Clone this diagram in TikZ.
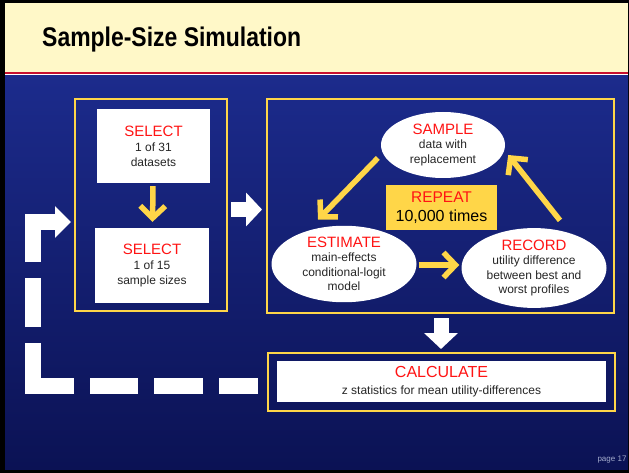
\documentclass[tikz,border=0pt]{standalone}
\usepackage{fontspec}
\setmainfont{Liberation Sans}
\newfontfamily\titlefont[FakeStretch=0.85]{Liberation Sans}
\usetikzlibrary{calc,arrows.meta,shapes.geometric}
\definecolor{navytop}{RGB}{28,43,140}
\definecolor{navybot}{RGB}{11,18,84}
\definecolor{titleband}{RGB}{255,248,200}
\definecolor{rulered}{RGB}{200,16,46}
\definecolor{gold}{RGB}{255,214,72}
\definecolor{hdred}{RGB}{255,20,20}
\newcommand{\hd}[2][15]{{\fontsize{#1}{15}\selectfont\color{hdred}#2}}
\begin{document}
\begin{tikzpicture}[x=1pt, y=-1pt,
  outerbox/.style={draw=gold, line width=2pt, inner sep=0pt},
  whitebox/.style={fill=white, align=center, inner sep=0pt, text=black!85, font=\fontsize{12}{15}\selectfont},
  blob/.style={ellipse, fill=white, align=center, inner sep=0pt, text=black!85, font=\fontsize{12}{14.5}\selectfont},
  yarrow/.style={draw=gold, line width=5.5pt, -{Straight Barb[length=12pt,width=25pt]}},
  warrow/.style={draw=white, line width=15pt, -{Triangle[length=16pt,width=33pt]}},
  retline/.style={draw=white, line width=16pt,
    dash pattern=on 39pt off 16pt on 49pt off 16pt on 48pt off 16pt on 84pt off 16pt on 49pt off 16pt on 62pt off 100pt,
    -{Triangle[length=16pt,width=31pt]}}]
  \useasboundingbox (0,0) rectangle (629,473);
  \fill[black] (0,0) rectangle (629,473);
  \fill[titleband] (5,3) rectangle (628,72);
  \fill[rulered] (5,72) rectangle (628,74);
  \fill[white] (5,74) rectangle (628,75.5);
  \shade[top color=navytop, bottom color=navybot] (5,75.5) rectangle (628,469);
  \node[anchor=west, inner sep=0pt, font=\titlefont\bfseries\fontsize{27}{27}\selectfont] (title) at (42,40) {Sample-Size Simulation};

  % left panel
  \node[outerbox, minimum width=152, minimum height=212] (selbox) at (151,205) {};
  \node[whitebox, minimum width=113, minimum height=74] (sel1) at (153.5,146) {\hd{SELECT}\\1 of 31\\datasets};
  \node[whitebox, minimum width=114, minimum height=75] (sel2) at (152,265.5) {\hd{SELECT}\\1 of 15\\sample sizes};
  \draw[yarrow, shorten <=3pt, shorten >=6pt] (sel1) -- (sel2);

  % resampling loop
  \node[outerbox, minimum width=347, minimum height=214] (loopbox) at (440.5,206) {};
  \node[blob, minimum width=124, minimum height=66] (sample) at (443,145) {\hd{SAMPLE}\\data with\\replacement};
  \node[blob, minimum width=145, minimum height=72] (estimate) at (344,264) {\hd{ESTIMATE}\\main-effects\\conditional-logit\\model};
  \node[blob, minimum width=145, minimum height=77] (record) at (534,268) {\hd{RECORD}\\utility difference\\between best and\\worst profiles};
  \node[fill=gold, align=center, inner sep=0pt, minimum width=111, minimum height=45, font=\fontsize{16}{19}\selectfont] (repeat) at (441.5,207.5) {\hd[15.5]{REPEAT}\\10,000 times};
  \draw[yarrow] ($(sample.west)+(-3,13)$) -- ($(estimate.north)+(-26,-6)$);
  \draw[yarrow] ($(estimate.east)+(2,1)$) -- ($(record.west)+(-2,-3)$);
  \draw[yarrow] ($(record.north)+(26,-7.5)$) -- ($(sample.east)+(3,10)$);

  % result
  \node[outerbox, minimum width=347, minimum height=58] (calcout) at (441.5,382) {};
  \node[whitebox, minimum width=329, minimum height=41, font=\fontsize{12}{17}\selectfont] (calc) at (441.5,381.5) {\hd[16]{CALCULATE}\\z statistics for mean utility-differences};

  \draw[warrow] ($(selbox.east)+(3,4.5)$) -- ($(loopbox.west)+(-4,3.5)$);
  \draw[warrow] ($(loopbox.south)+(0.5,4)$) -- ($(calcout.north)+(-0.5,-3)$);
  \draw[retline] ($(calcout.west)+(-9,4)$) -| ($(selbox.west)+(-41,17)$) -- ($(selbox.west)+(-3,17)$);

  \node[inner sep=0pt, text={rgb,255:red,165;green,172;blue,205}, font=\fontsize{8}{8}\selectfont] (pagenum) at (612,460) {page 17};
\end{tikzpicture}
\end{document}
